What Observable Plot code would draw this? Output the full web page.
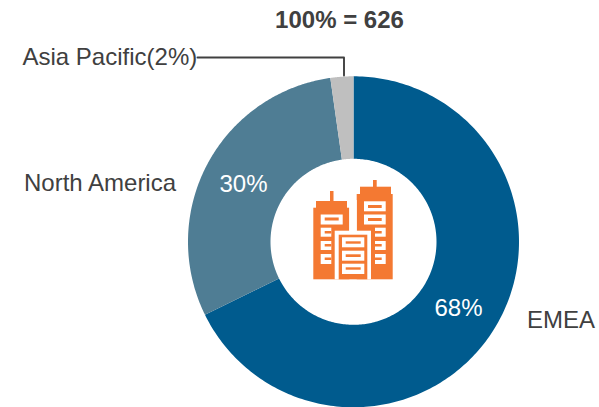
<!DOCTYPE html>
<html><head><meta charset="utf-8">
<script src="https://cdn.jsdelivr.net/npm/d3@7"></script>
<script src="https://cdn.jsdelivr.net/npm/@observablehq/plot@0.6"></script>
<style>html,body{margin:0;padding:0;background:#fff}svg{display:block}</style>
</head><body><div id="c"></div>
<script>
const regions = ["EMEA", "North America", "Asia Pacific"];
const counts = [424, 188, 14];
const colors = ["#005B8E", "#4F7D94", "#BFBFBF"];
const total = 626;
const share = i => Math.round(counts[i] / total * 100);
const center = [353.5, 241.8];
const radii = [83, 165.5];
const pieces = d3.pie().sort(null)(counts);
const ring = pieces.flatMap((p, i) => d3.range(0, 1.0001, 1 / 240).map(t => {
  const a = p.startAngle + t * (p.endAngle - p.startAngle);
  return {
    region: regions[i],
    x1: center[0] + radii[0] * Math.sin(a), y1: center[1] - radii[0] * Math.cos(a),
    x2: center[0] + radii[1] * Math.sin(a), y2: center[1] - radii[1] * Math.cos(a)
  };
}));
// icon: [x1, y1, x2, y2]
const iconOrange = [
  [313.3,207.7,349.3,279.3],[316,201,347,208],[330,191,333.5,201],
  [356.7,194,392.7,279.3],[360,186.7,391,194],[373,180,376.7,187]
];
const iconWhite = [
  [320.7,214.5,342.7,224.5],[320.7,227.7,331.3,236.7],[320.7,241,331.3,250],[320.7,254,331.3,264],
  [364,201.3,385.7,211.3],[364,214.5,385.7,224.5],[375,227.7,385.7,236.7],[375,241,385.7,250],[375,254,385.7,264],
  [349.3,200,356.7,231],[334.7,230.7,371,279.3]
];
const iconOrange2 = [
  [324.7,217.5,338.7,220.5],[324.7,231,331.3,233.5],[324.7,244,331.3,246.5],[324.7,257.5,331.3,260],
  [368,205,381.7,208],[368,218,381.7,221],[375,231,381.7,233.5],[375,244,381.7,246.5],[375,257.5,381.7,260],
  [338.7,234.7,367.3,279.3]
];
const iconWhite2 = [[342,237.3,364.3,247.3],[342,250.7,364.3,260.7],[342,263.7,364.3,274]];
const iconOrange3 = [[345.7,241.3,360.7,243.7],[345.7,254.3,360.7,257],[345.7,267.3,360.7,269.7]];
const toRect = a => a.map(([x1,y1,x2,y2]) => ({x1,y1,x2,y2}));
const rectOpts = fill => ({x1:"x1",x2:"x2",y1:"y1",y2:"y2",fill});
const font = "Arial, 'Liberation Sans', sans-serif";
const label = (txt, x, y, fill, extra = {}) =>
  Plot.text([txt], {x, y, text:d=>d, fontSize:24, fill, ...extra});
const plot = Plot.plot({
  width: 599, height: 407, margin: 0,
  style: {fontFamily: font, background: "#fff", overflow: "visible"},
  x: {domain: [0, 599], range: [0, 599], axis: null},
  y: {domain: [0, 407], range: [0, 407], axis: null},
  color: {domain: regions, range: colors},
  marks: [
    Plot.area(ring, {x1:"x1", y1:"y1", x2:"x2", y2:"y2", fill:"region", z:"region", curve:"linear"}),
    Plot.line([[197,57],[343.5,57],[343.5,75]], {x:d=>d[0], y:d=>d[1], stroke:"#404040", strokeWidth:1.9, curve:"linear"}),
    Plot.rect(toRect(iconOrange), rectOpts("#F47932")),
    Plot.rect(toRect(iconWhite), rectOpts("#fff")),
    Plot.rect(toRect(iconOrange2), rectOpts("#F47932")),
    Plot.rect(toRect(iconWhite2), rectOpts("#fff")),
    Plot.rect(toRect(iconOrange3), rectOpts("#F47932")),
    label(`100% = ${total}`, 339, 20, "#404040", {fontWeight:"bold"}),
    label(`${regions[2]}(${share(2)}%)`, 22, 57, "#404040", {textAnchor:"start"}),
    label(regions[1], 23.5, 183, "#404040", {textAnchor:"start"}),
    label(regions[0], 526.5, 320, "#404040", {textAnchor:"start"}),
    label(`${share(1)}%`, 243, 184, "#fff"),
    label(`${share(0)}%`, 458, 308, "#fff")
  ]
});
document.getElementById("c").appendChild(plot);
</script></body></html>
